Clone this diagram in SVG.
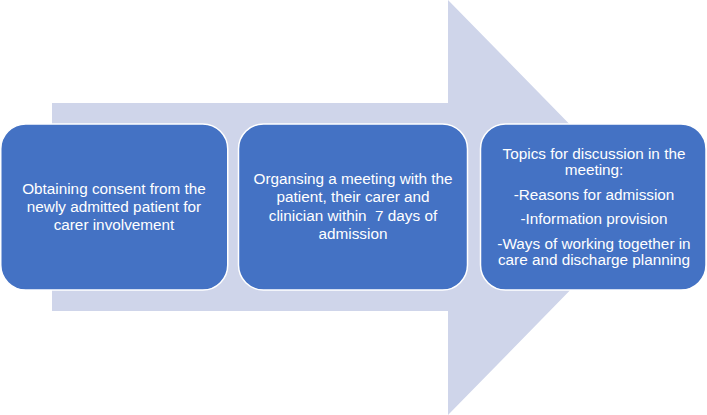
<svg xmlns="http://www.w3.org/2000/svg" width="707" height="415" viewBox="0 0 707 415">
<style>
.box{fill:#4472C4;stroke:#FFFFFF;stroke-width:1.5}
.t{font-family:"Liberation Sans","Open Sans",Arial,sans-serif;font-size:15.3px;fill:#FFFFFF;text-anchor:middle}
</style>
<rect width="707" height="415" fill="#FFFFFF"/>
<g id="arrow">
<polygon points="52,103 448,103 448,0 651,207.5 448,415 448,311 52,311" fill="#CFD5EA"/>
</g>
<g id="connectors"></g>
<g id="node1">
<rect class="box" x="0.75" y="124" width="227" height="166" rx="25" ry="25"/>
<text class="t" x="114" y="194">Obtaining consent from the</text>
<text class="t" x="114" y="212">newly admitted patient for</text>
<text class="t" x="114" y="230">carer involvement</text>
</g>
<g id="node2">
<rect class="box" x="238.5" y="124" width="229" height="166" rx="25" ry="25"/>
<text class="t" x="353" y="183.5">Organsing a meeting with the</text>
<text class="t" x="353" y="202">patient, their carer and</text>
<text class="t" x="353" y="220.5" xml:space="preserve">clinician within  7 days of</text>
<text class="t" x="353" y="239">admission</text>
</g>
<g id="node3">
<rect class="box" x="480.5" y="124" width="225.5" height="166" rx="25" ry="25"/>
<text class="t" x="594" y="159">Topics for discussion in the</text>
<text class="t" x="594" y="175">meeting:</text>
<text class="t" x="594" y="200">-Reasons for admission</text>
<text class="t" x="594" y="224">-Information provision</text>
<text class="t" x="594" y="249">-Ways of working together in</text>
<text class="t" x="594" y="265">care and discharge planning</text>
</g>
</svg>
